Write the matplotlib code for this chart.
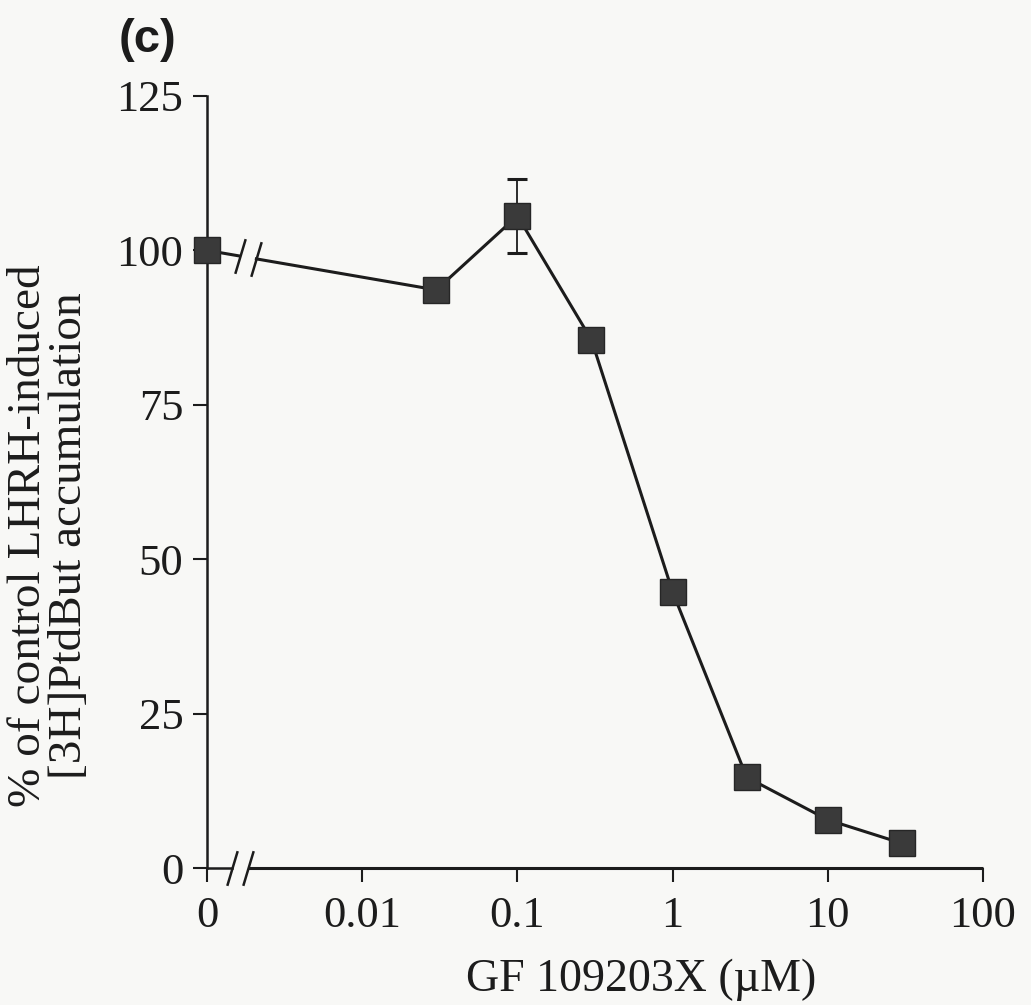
import numpy as np
import matplotlib
matplotlib.use("Agg")
import matplotlib.pyplot as plt

plt.rcParams['font.family'] = ['Liberation Serif', 'DejaVu Serif']

# GF 109203X dose response; 0 uM control is drawn at 1e-3 on the log axis
conc = [0.001, 0.03, 0.1, 0.3, 1, 3, 10, 30]
response = [100, 93.6, 105.6, 85.5, 44.7, 14.7, 7.8, 4.0]
err = [0, 0, 6.0, 0, 0, 0, 0, 0]
xticks = [0.001, 0.01, 0.1, 1, 10, 100]
xticklabels = ['0', '0.01', '0.1', '1', '10', '100']
yticks = [0, 25, 50, 75, 100, 125]

bg = '#f8f8f6'
ink = '#1c1c1c'

fig = plt.figure(figsize=(10.31, 10.05), dpi=100, facecolor=bg)
ax = fig.add_axes([0.2008, 0.1363, 0.7527, 0.7682], facecolor=bg)

ax.set_xscale('log')
ax.set_xlim(0.001, 100)
ax.set_ylim(0, 125)

# break positions on the data line and on the x axis
line_gap = (0.00162, 0.00208)
axis_gap = (0.00145, 0.00185)

# data line, interrupted between the control and the first dose
lx = np.log10(conc)
slope = (response[1] - response[0]) / (lx[1] - lx[0])
yb1 = response[0] + slope * (np.log10(line_gap[0]) - lx[0])
yb2 = response[0] + slope * (np.log10(line_gap[1]) - lx[0])
ax.plot([conc[0], line_gap[0]], [response[0], yb1], color=ink, lw=2.2,
        clip_on=False, zorder=3)
ax.plot([line_gap[1]] + conc[1:], [yb2] + response[1:], color=ink, lw=2.2,
        clip_on=False, zorder=3)

# error bar on the 0.1 uM point
ax.errorbar(conc[2], response[2], yerr=err[2], fmt='none', ecolor=ink,
            elinewidth=1.3, capsize=7, capthick=2.2, zorder=2)

ax.plot(conc, response, ls='none', marker='s', markersize=19,
        markerfacecolor='#3a3a3a', markeredgecolor='#262626',
        markeredgewidth=1.0, clip_on=False, zorder=4)

# break slashes
slash = [(-0.3, -1), (0.3, 1)]
for xg, yg in zip(line_gap, (yb1, yb2)):
    ax.plot(xg, yg, marker=slash, markersize=25, color=ink, mew=1.8,
            ls='none', clip_on=False, zorder=5)
for xg in axis_gap:
    ax.plot(xg, 0, marker=slash, markersize=25, color=ink, mew=1.8,
            ls='none', clip_on=False, zorder=5)

# axes frame: left spine plus a bottom axis with a gap near zero
for side in ('top', 'right'):
    ax.spines[side].set_visible(False)
ax.spines['left'].set_linewidth(1.8)
ax.spines['left'].set_color(ink)
ax.spines['bottom'].set_linewidth(1.8)
ax.spines['bottom'].set_color(ink)
ax.spines['bottom'].set_bounds(0.001, axis_gap[0])
ax.plot([axis_gap[1], 100], [0, 0], color=ink, lw=2.2, clip_on=False,
        solid_capstyle='butt', zorder=3)

ax.set_xticks(xticks)
ax.set_xticklabels(xticklabels)
ax.xaxis.set_minor_locator(matplotlib.ticker.NullLocator())
ax.set_yticks(yticks)
ax.tick_params(axis='both', direction='out', length=10, width=1.5,
               color=ink, labelsize=32, labelcolor=ink)
ax.tick_params(axis='x', pad=10)
ax.tick_params(axis='y', pad=7)

ax.set_xlabel('GF 109203X (\u00b5M)', fontsize=33, color=ink)
ax.xaxis.set_label_coords(0.559, -0.117)
ax.set_ylabel('% of control LHRH-induced\n[3H]PtdBut accumulation',
              fontsize=34, color=ink, linespacing=0.95)
ax.yaxis.set_label_coords(-0.15, 0.43)

fig.text(0.143, 0.96, '(c)', fontsize=34, fontweight='bold',
         family='Liberation Sans', ha='center', va='center', color=ink)

fig.savefig('out.png', dpi=100, facecolor=bg)
